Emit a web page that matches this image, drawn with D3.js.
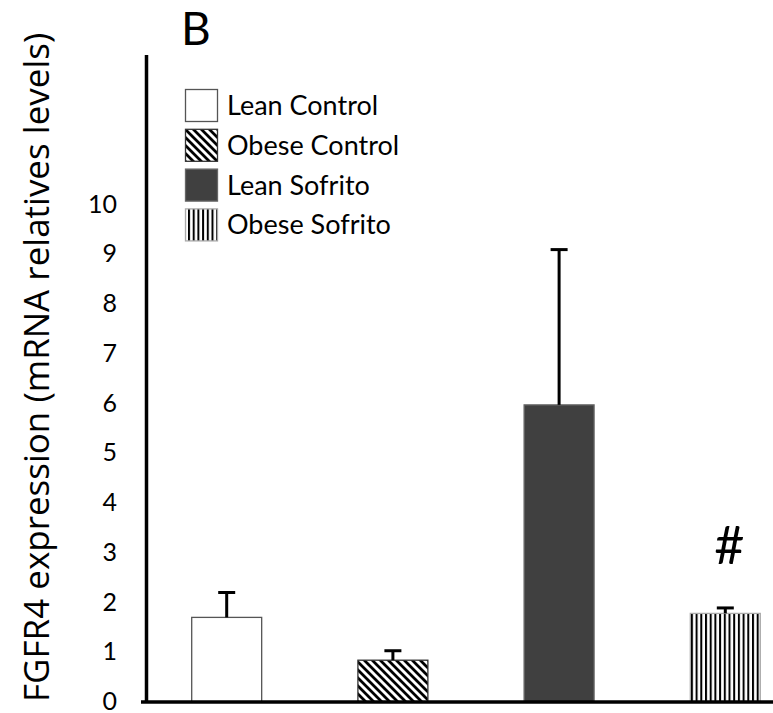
<!DOCTYPE html>
<html>
<head>
<meta charset="utf-8">
<script src="https://cdn.jsdelivr.net/npm/d3@7"></script>
<style>
  body { margin: 0; background: #fff; }
  svg { display: block; }
</style>
</head>
<body>
<svg id="canvas"></svg>
<script>
// values
let groups = ['Lean Control', 'Obese Control', 'Lean Sofrito', 'Obese Sofrito']
let means = [1.70, 0.84, 5.97, 1.78]
let errors = [0.50, 0.19, 3.12, 0.11]
let yTicks = [0, 1, 2, 3, 4, 5, 6, 7, 8, 9, 10]
let marks = ['', '', '', '#']

let width = 773
let height = 713

let svg = d3.select('#canvas')
            .attr('width', width)
            .attr('height', height)

let defs = svg.append('defs')

// diagonal stripes for obese control
let diag = defs.append('pattern')
            .attr('id', 'diag')
            .attr('patternUnits', 'userSpaceOnUse')
            .attr('width', 8)
            .attr('height', 8)
diag.append('rect').attr('width', 8).attr('height', 8).attr('fill', '#fff')
diag.append('path')
    .attr('d', 'M-2,-2 L10,10 M-2,6 L2,10 M6,-2 L10,2')
    .attr('stroke', '#000')
    .attr('stroke-width', 2.8)

// vertical stripes for obese sofrito
let vert = defs.append('pattern')
            .attr('id', 'vert')
            .attr('patternUnits', 'userSpaceOnUse')
            .attr('width', 4.7)
            .attr('height', 10)
vert.append('rect').attr('width', 4.7).attr('height', 10).attr('fill', '#fff')
vert.append('rect').attr('x', 0).attr('width', 2).attr('height', 10).attr('fill', '#000')

let fills = ['#ffffff', 'url(#diag)', '#404040', 'url(#vert)']
let strokes = ['#555', '#333', '#666', '#aaa']

let x = d3.scaleBand()
          .domain(groups)
          .range([146.5, 805.5])
          .paddingInner(0.579)
          .paddingOuter(0.272)

let y = d3.scaleLinear()
          .domain([0, 13])
          .range([702, 55])

// bars
svg.selectAll('.bar')
   .data(groups)
   .enter()
   .append('rect')
   .attr('class', 'bar')
   .attr('x', (d) => x(d))
   .attr('y', (d, i) => y(means[i]))
   .attr('width', x.bandwidth())
   .attr('height', (d, i) => y(0) - y(means[i]))
   .attr('fill', (d, i) => fills[i])
   .attr('stroke', (d, i) => strokes[i])
   .attr('stroke-width', 1.3)

// error bars (upper only)
let err = svg.selectAll('.err')
             .data(groups)
             .enter()
             .append('g')
             .attr('class', 'err')
err.append('line')
   .attr('x1', (d) => x(d) + x.bandwidth() / 2)
   .attr('x2', (d) => x(d) + x.bandwidth() / 2)
   .attr('y1', (d, i) => y(means[i]))
   .attr('y2', (d, i) => y(means[i] + errors[i]))
   .attr('stroke', '#000')
   .attr('stroke-width', 3)
err.append('line')
   .attr('x1', (d) => x(d) + x.bandwidth() / 2 - 8.5)
   .attr('x2', (d) => x(d) + x.bandwidth() / 2 + 8.5)
   .attr('y1', (d, i) => y(means[i] + errors[i]))
   .attr('y2', (d, i) => y(means[i] + errors[i]))
   .attr('stroke', '#000')
   .attr('stroke-width', 3)

// significance marks
svg.selectAll('.mark')
   .data(groups)
   .enter()
   .append('text')
   .attr('class', 'mark')
   .attr('x', (d) => x(d) + x.bandwidth() / 2 + 4)
   .attr('y', (d, i) => y(means[i] + errors[i]) - 44)
   .attr('text-anchor', 'middle')
   .style('font-family', 'Lato, sans-serif')
   .style('font-size', '52px')
   .text((d, i) => marks[i])

// axes
svg.append('line')
   .attr('x1', 146.5).attr('x2', 146.5)
   .attr('y1', y.range()[1]).attr('y2', y(0))
   .attr('stroke', '#000')
   .attr('stroke-width', 3.5)
svg.append('line')
   .attr('x1', 141).attr('x2', width)
   .attr('y1', y(0)).attr('y2', y(0))
   .attr('stroke', '#000')
   .attr('stroke-width', 3.5)

svg.selectAll('.tick-label')
   .data(yTicks)
   .enter()
   .append('text')
   .attr('class', 'tick-label')
   .attr('x', 117)
   .attr('y', (d) => y(d))
   .attr('dy', '0.33em')
   .attr('text-anchor', 'end')
   .style('font-family', 'Lato, sans-serif')
   .style('font-size', '25px')
   .text((d) => d)

// y title
svg.append('text')
   .attr('transform', 'translate(49,702) rotate(-90)')
   .attr('text-anchor', 'start')
   .style('font-family', '"Open Sans", sans-serif')
   .style('font-size', '35px')
   .text('FGFR4 expression (mRNA relatives levels)')

// panel letter
svg.append('text')
   .attr('x', 181)
   .attr('y', 45)
   .style('font-family', 'Lato, sans-serif')
   .style('font-size', '46px')
   .text('B')

// legend
let legend = svg.append('g').attr('id', 'legend')
for (let i = 0; i < groups.length; i++) {
    legend.append('rect')
          .attr('x', 185.5)
          .attr('y', 89.5 + 39.8 * i)
          .attr('width', 32)
          .attr('height', 32)
          .attr('fill', fills[i])
          .attr('stroke', strokes[i])
          .attr('stroke-width', 1.3)
    legend.append('text')
          .attr('x', 227)
          .attr('y', 105.5 + 39.8 * i)
          .attr('dy', '0.35em')
          .style('font-family', 'Lato, sans-serif')
          .style('font-size', '27px')
          .text(groups[i])
}
</script>
</body>
</html>
